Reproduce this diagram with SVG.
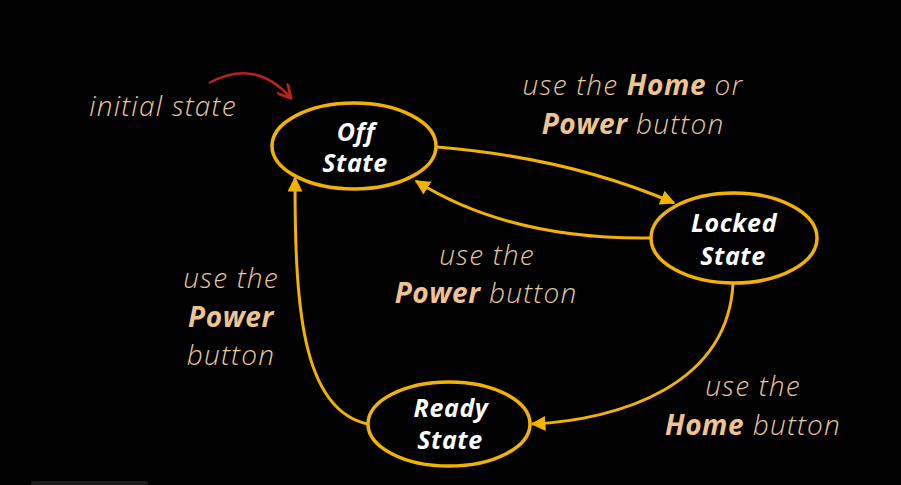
<svg xmlns="http://www.w3.org/2000/svg" width="901" height="485" viewBox="0 0 901 485">
<defs>
<style>
.node{fill:#000;stroke:#f2b300;stroke-width:3.5}
.nt{font-family:"Open Sans","Noto Sans",sans-serif;font-style:italic;font-weight:700;font-size:25px;letter-spacing:0.6px;fill:#fff;text-anchor:middle}
.edge{fill:none;stroke:#f2b300;stroke-width:3}
.lbl{font-family:"Open Sans","Noto Sans",sans-serif;font-style:italic;font-weight:300;font-size:28px;letter-spacing:1.2px;fill:#e9c79c;text-anchor:middle}
.b{font-weight:700;letter-spacing:0.6px;fill:#f0c48e}
</style>
<marker id="ah" viewBox="0 0 10 10" refX="9" refY="5" markerWidth="5" markerHeight="5" orient="auto" markerUnits="strokeWidth">
<path d="M0,0 L10,5 L0,10 z" fill="#f2b300"/>
</marker>
<marker id="ahr" viewBox="0 0 10 10" refX="8" refY="5" markerWidth="6" markerHeight="6" orient="auto" markerUnits="strokeWidth">
<path d="M0,0 L9,5 L0,10" fill="none" stroke="#b3241c" stroke-width="2"/>
</marker>
</defs>
<rect width="901" height="485" fill="#000"/>
<rect x="31" y="481" width="117" height="8" rx="3" fill="#1c1c1c"/>
<g id="connectors">
<path class="edge" d="M437,147 Q570,158 674,203" marker-end="url(#ah)"/>
<path class="edge" d="M651,238 Q510,240 416,181" marker-end="url(#ah)"/>
<path class="edge" d="M733,283 C728,385 620,420 532,424" marker-end="url(#ah)"/>
<path class="edge" d="M368,424 C300,410 295,300 295,178" marker-end="url(#ah)"/>
<path d="M209,83 Q255,58 290,97" fill="none" stroke="#b3241c" stroke-width="2.5" marker-end="url(#ahr)"/>
</g>
<g id="off">
<ellipse class="node" cx="354" cy="146" rx="82" ry="43"/>
<text class="nt" x="356" y="141">Off</text>
<text class="nt" x="355" y="172">State</text>
</g>
<g id="locked">
<ellipse class="node" cx="734" cy="238" rx="83" ry="45"/>
<text class="nt" x="734" y="232">Locked</text>
<text class="nt" x="733" y="265">State</text>
</g>
<g id="ready">
<ellipse class="node" cx="449" cy="424" rx="81" ry="42"/>
<text class="nt" x="451" y="417">Ready</text>
<text class="nt" x="450" y="449">State</text>
</g>
<g id="labels">
<text class="lbl" x="163" y="116">initial state</text>
<text class="lbl" x="633" y="95">use the <tspan class="b">Home</tspan> or</text>
<text class="lbl" x="633" y="134"><tspan class="b">Power</tspan> button</text>
<text class="lbl" x="487" y="265">use the</text>
<text class="lbl" x="486" y="303"><tspan class="b">Power</tspan> button</text>
<text class="lbl" x="231" y="288">use the</text>
<text class="lbl b" x="231" y="327">Power</text>
<text class="lbl" x="231" y="365">button</text>
<text class="lbl" x="753" y="396">use the</text>
<text class="lbl" x="753" y="435"><tspan class="b">Home</tspan> button</text>
</g>
</svg>
